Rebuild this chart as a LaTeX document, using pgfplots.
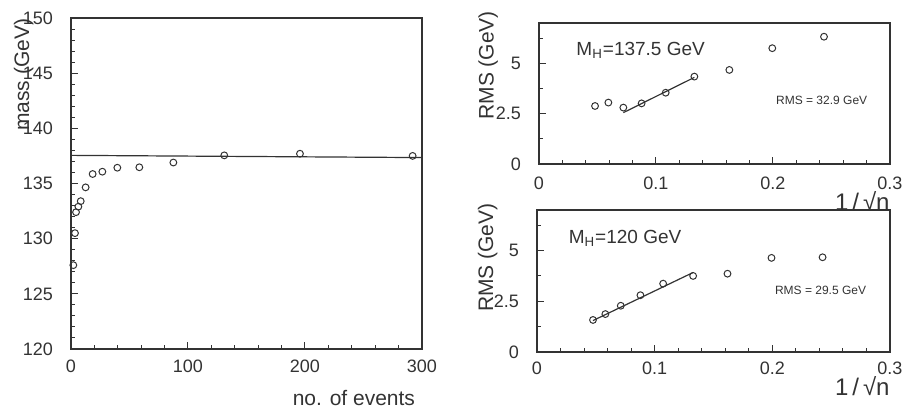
\documentclass[border=0pt]{standalone}
\usepackage{fontspec}
\setmainfont{Liberation Sans}
\usepackage{pgfplots}
\pgfplotsset{compat=1.18}
\definecolor{ink}{HTML}{333333}

\pgfplotsset{
  scan/.style={
    scale only axis, axis line style={ink, line width=0.6pt},
    tick pos=left, tick align=inside, tick style={ink, line width=0.5pt},
    major tick length=3.5pt, minor tick length=1.8pt,
    /pgf/number format/assume math mode=true,
    tick label style={font=\fontsize{9}{10}\selectfont, text=ink},
    label style={font=\fontsize{10.5}{12}\selectfont, text=ink},
    clip=false},
  pts/.style={only marks, mark=o, mark size=1.7pt, mark options={ink, line width=0.5pt}},
  fit/.style={ink, line width=0.6pt, no marks}
}
\tikzset{invn/.style={font=\fontsize{12}{13}\selectfont, anchor=north east, inner sep=0pt}}

\begin{document}
\begin{tikzpicture}
\useasboundingbox (-35.5pt,-29.5pt) rectangle (415.5pt,174.5pt);

% mass against number of events
\begin{axis}[scan, at={(0pt,0pt)}, anchor=south west,
  width=175.5pt, height=165.5pt,
  xmin=0, xmax=300, ymin=120, ymax=150,
  xtick={0,100,200,300}, minor x tick num=4,
  ytick={120,125,...,150}, minor y tick num=4,
  xticklabel style={yshift=-2pt}, yticklabel style={xshift=-5.5pt},
  xlabel={no. of events}, xlabel style={at={(rel axis cs:0.806,-0.148)}, anchor=center},
  ylabel={mass (GeV)}, ylabel style={at={(rel axis cs:-0.135,0.828)}, anchor=center}]
\addplot[pts] coordinates {
  (2,127.6) (3.4,130.5) (4.3,132.4) (6.3,132.9) (8.3,133.4) (12.5,134.65)
  (18.5,135.86) (26.8,136.07) (39.6,136.43) (58.4,136.47) (87.5,136.9)
  (131,137.55) (195.7,137.7) (292,137.5)};
\addplot[fit] coordinates {(0,137.55) (300,137.35)};
\end{axis}

% RMS, M_H = 137.5 GeV
\begin{axis}[scan, at={(234pt,92.5pt)}, anchor=south west,
  width=175.5pt, height=70.5pt,
  xmin=0, xmax=0.3, ymin=0, ymax=7,
  xtick={0,0.1,0.2,0.3}, minor x tick num=4,
  ytick={0,2.5,5}, minor ytick={1.25,3.75,6.25},
  xticklabel style={yshift=-3pt}, yticklabel style={xshift=-5.5pt},
  xlabel={1\,/\,√n}, xlabel style={invn, at={(rel axis cs:1.0,-0.19)}},
  ylabel={RMS (GeV)}, ylabel style={at={(rel axis cs:-0.145,0.70)}, anchor=center}]
\addplot[pts] coordinates {
  (0.0479,2.88) (0.0593,3.05) (0.0721,2.80) (0.0877,3.01) (0.1083,3.54)
  (0.1328,4.34) (0.1627,4.67) (0.1994,5.75) (0.2436,6.32)};
\addplot[fit] coordinates {(0.0721,2.55) (0.1328,4.30)};
\node[anchor=west, text=ink, font=\fontsize{9.5}{11}\selectfont] at (axis cs:0.026,5.66) {M\textsubscript{H}=137.5 GeV};
\node[text=ink, font=\fontsize{6}{7}\selectfont] at (axis cs:0.2416,3.18) {RMS = 32.9 GeV};
\end{axis}

% RMS, M_H = 120 GeV
\begin{axis}[scan, at={(233pt,-1.5pt)}, anchor=south west,
  width=176.5pt, height=71pt,
  xmin=0, xmax=0.3, ymin=0, ymax=7,
  xtick={0,0.1,0.2,0.3}, minor x tick num=4,
  ytick={0,2.5,5}, minor ytick={1.25,3.75,6.25},
  xticklabel style={yshift=-1.5pt}, yticklabel style={xshift=-5.5pt},
  xlabel={1\,/\,√n}, xlabel style={invn, at={(rel axis cs:1.0,-0.17)}},
  ylabel={RMS (GeV)}, ylabel style={at={(rel axis cs:-0.14,0.665)}, anchor=center}]
\addplot[pts] coordinates {
  (0.0476,1.58) (0.0581,1.87) (0.0712,2.28) (0.0879,2.80) (0.1072,3.37)
  (0.1327,3.75) (0.1619,3.86) (0.1993,4.64) (0.2427,4.67)};
\addplot[fit] coordinates {(0.0476,1.55) (0.1327,3.92)};
\node[anchor=west, text=ink, font=\fontsize{9.5}{11}\selectfont] at (axis cs:0.021,5.6) {M\textsubscript{H}=120 GeV};
\node[text=ink, font=\fontsize{6}{7}\selectfont] at (axis cs:0.241,3.05) {RMS = 29.5 GeV};
\end{axis}
\end{tikzpicture}
\end{document}
